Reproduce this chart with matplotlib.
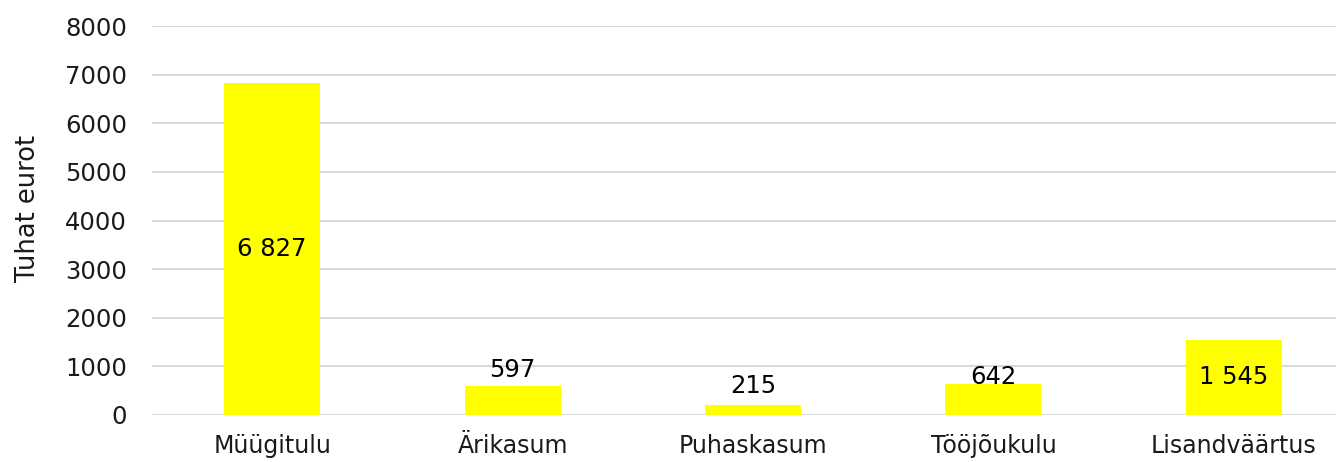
import matplotlib
matplotlib.use("Agg")
import matplotlib.pyplot as plt

categories = ["Müügitulu", "Ärikasum", "Puhaskasum", "Tööjõukulu", "Lisandväärtus"]
values = [6827, 597, 215, 642, 1545]
value_labels = ["6 827", "597", "215", "642", "1 545"]
label_inside = [True, False, False, False, True]
label_offsets_pt = [0, 3, 5, -3.5, 0]
yticks = [0, 1000, 2000, 3000, 4000, 5000, 6000, 7000, 8000]

plt.rcParams['font.family'] = ['DejaVu Sans']

fig = plt.figure(figsize=(13.36, 4.62), dpi=100)
ax = fig.add_axes([152/1336, 1-415/462, 1-152/1336, (415-26)/462])

x = list(range(len(categories)))
bars = ax.bar(x, values, width=0.4, color="#FFFF00", zorder=3)

FS = 17.5
ax.set_ylim(0, 8000)
ax.set_xlim(-0.5, 4.5 - 18/240.5)
ax.set_yticks(yticks)
ax.set_yticklabels([str(t) for t in yticks], fontsize=FS, color="#1a1a1a")
ax.set_xticks(x)
ax.set_xticklabels(categories, fontsize=17, color="#1a1a1a")
ax.tick_params(axis='both', length=0)
ax.tick_params(axis='y', pad=18)
ax.tick_params(axis='x', pad=14)
ax.grid(axis='y', color="#d9d9d9", linewidth=1.5, zorder=0)
for s in ax.spines.values():
    s.set_visible(False)
ax.set_ylabel("Tuhat eurot", fontsize=18.5, color="#1a1a1a")
ax.yaxis.set_label_coords((41 - 152) / (1336 - 152), (415 - 208) / (415 - 26))

for xi, v, lab, inside, off in zip(x, values, value_labels, label_inside, label_offsets_pt):
    if inside:
        ax.text(xi, v/2, lab, ha='center', va='center', fontsize=FS, color="#000000", zorder=4)
    else:
        ax.annotate(lab, (xi, v), xytext=(0, off), textcoords='offset points',
                    ha='center', va='bottom', fontsize=FS, color="#000000", zorder=4)

fig.savefig("out.png", dpi=100)
